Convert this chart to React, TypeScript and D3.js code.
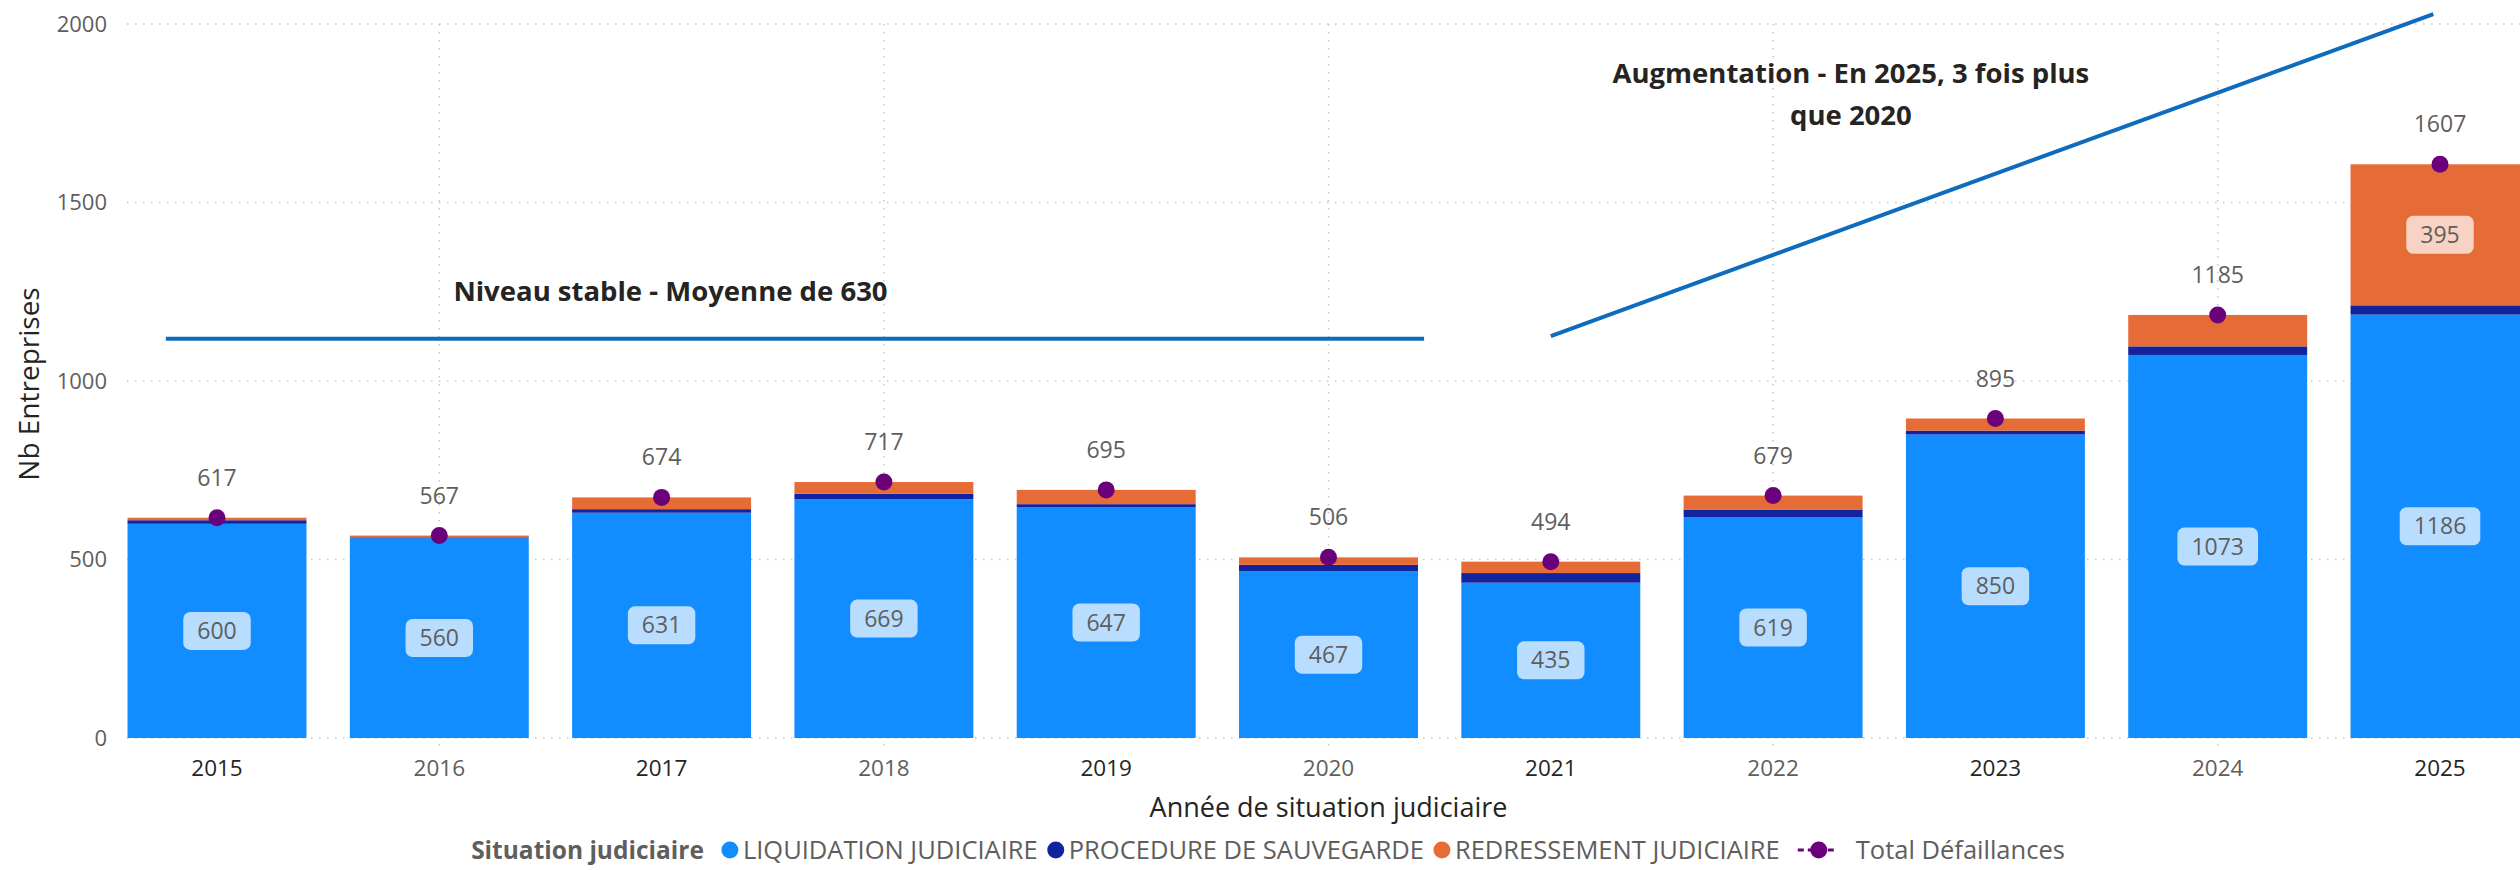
import React, { useRef, useEffect } from "react";
import * as d3 from "d3";

/* Chart data */
const years = ["2015", "2016", "2017", "2018", "2019", "2020", "2021", "2022", "2023", "2024", "2025"];
const liquidation = [600, 560, 631, 669, 647, 467, 435, 619, 850, 1073, 1186];
const sauvegarde = [10, 2, 10, 15, 8, 18, 27, 21, 11, 24, 26];
const redressement = [7, 5, 33, 33, 40, 21, 32, 39, 34, 88, 395];
const totals = [617, 567, 674, 717, 695, 506, 494, 679, 895, 1185, 1607];

const seriesKeys = ["liquidation", "sauvegarde", "redressement"];
const seriesNames = ["LIQUIDATION JUDICIAIRE", "PROCEDURE DE SAUVEGARDE", "REDRESSEMENT JUDICIAIRE"];
const seriesColors = ["#118DFF", "#12239E", "#E66C37"];
const totalName = "Total Défaillances";
const legendTitle = "Situation judiciaire";
const yTicks = [0, 500, 1000, 1500, 2000];

/* Annotations, in data units (x = year index, y = value) */
const stableLine: [number, number][] = [[-0.23, 1118], [5.43, 1118]];
const stableText = { x: 2.04, y: 1252, lines: ["Niveau stable - Moyenne de 630"] };
const growthLine: [number, number][] = [[6.0, 1126], [9.97, 2028]];
const growthText = { x: 7.35, y: 1862, lines: ["Augmentation - En 2025, 3 fois plus", "que 2020"] };

const FONT = "'Segoe UI', 'Open Sans', sans-serif";
const GRAY = "#605E5C";
const DARK = "#252423";

const App = () => {
  const svgRef = useRef(null);

  const drawChart = () => {
    const width = 2520;
    const height = 870;
    const svg = d3.select(svgRef.current);
    svg.selectAll("*").remove();
    svg.attr("width", width).attr("height", height).style("font-family", FONT);

    const plotLeft = 127;
    const step = 222.3;
    const firstCenter = 217;

    /* scales */
    const x = d3
      .scaleBand()
      .domain(years)
      .range([firstCenter - step / 2, firstCenter - step / 2 + step * years.length])
      .paddingInner(0.195)
      .paddingOuter(0.0975);
    const xi = d3
      .scaleLinear()
      .domain([0, years.length - 1])
      .range([x(years[0]) + x.bandwidth() / 2, x(years[years.length - 1]) + x.bandwidth() / 2]);
    const y = d3.scaleLinear().domain([0, 2000]).range([738, 24]);

    /* gridlines */
    const grid = svg.append("g");
    grid
      .selectAll("line.h")
      .data(yTicks)
      .enter()
      .append("line")
      .attr("x1", plotLeft)
      .attr("x2", width)
      .attr("y1", (d) => y(d))
      .attr("y2", (d) => y(d))
      .attr("stroke", "#C8C6C4")
      .attr("stroke-width", 1.5)
      .attr("stroke-dasharray", "1.5 6.5");
    grid
      .selectAll("line.v")
      .data(years.filter((d, i) => i % 2 === 1))
      .enter()
      .append("line")
      .attr("x1", (d) => x(d) + x.bandwidth() / 2)
      .attr("x2", (d) => x(d) + x.bandwidth() / 2)
      .attr("y1", y(2000))
      .attr("y2", y(0) + 10)
      .attr("stroke", "#C8C6C4")
      .attr("stroke-width", 1.5)
      .attr("stroke-dasharray", "1.5 6.5");

    /* y axis labels */
    svg
      .append("g")
      .selectAll("text")
      .data(yTicks)
      .enter()
      .append("text")
      .attr("x", 107)
      .attr("y", (d) => y(d))
      .attr("dy", "0.35em")
      .attr("text-anchor", "end")
      .style("font-size", "22px")
      .attr("fill", GRAY)
      .text((d) => d);

    svg
      .append("text")
      .attr("transform", `translate(29, 384) rotate(-90)`)
      .attr("text-anchor", "middle")
      .attr("dy", "0.35em")
      .style("font-size", "28px")
      .attr("fill", DARK)
      .text("Nb Entreprises");

    /* x axis labels */
    svg
      .append("g")
      .selectAll("text")
      .data(years)
      .enter()
      .append("text")
      .attr("x", (d) => x(d) + x.bandwidth() / 2)
      .attr("y", 768)
      .attr("dy", "0.35em")
      .attr("text-anchor", "middle")
      .style("font-size", "22.5px")
      .attr("fill", (d, i) => (i % 2 === 0 ? DARK : GRAY))
      .text((d) => d);

    svg
      .append("text")
      .attr("x", xi(5))
      .attr("y", 808)
      .attr("dy", "0.35em")
      .attr("text-anchor", "middle")
      .style("font-size", "27px")
      .attr("fill", DARK)
      .text("Année de situation judiciaire");

    /* stacked bars */
    const table = years.map((yr, i) => ({
      year: yr,
      liquidation: liquidation[i],
      sauvegarde: sauvegarde[i],
      redressement: redressement[i],
    }));
    const stacked = d3.stack().keys(seriesKeys)(table);

    const layers = svg
      .append("g")
      .selectAll("g")
      .data(stacked)
      .enter()
      .append("g")
      .attr("fill", (d, i) => seriesColors[i]);
    layers
      .selectAll("rect")
      .data((d) => d)
      .enter()
      .append("rect")
      .attr("x", (d) => x(d.data.year))
      .attr("width", x.bandwidth())
      .attr("y", (d) => y(d[1]))
      .attr("height", (d) => y(d[0]) - y(d[1]));

    /* segment data labels */
    const labelG = svg.append("g");
    stacked.forEach((layer, li) => {
      layer.forEach((d) => {
        const h = y(d[0]) - y(d[1]);
        if (li === 1 || h < 44) return;
        const cx = x(d.data.year) + x.bandwidth() / 2;
        const cy = y((d[0] + d[1]) / 2);
        const val = d[1] - d[0];
        const g = labelG.append("g");
        const t = g
          .append("text")
          .attr("x", cx)
          .attr("y", cy)
          .attr("dy", "0.35em")
          .attr("text-anchor", "middle")
          .style("font-size", "23px")
          .attr("fill", GRAY)
          .text(val);
        const w = (t.node() as SVGTextElement).getComputedTextLength() + 28;
        g.insert("rect", "text")
          .attr("x", cx - w / 2)
          .attr("y", cy - 19)
          .attr("width", w)
          .attr("height", 38)
          .attr("rx", 7)
          .attr("fill", "#ffffff")
          .attr("fill-opacity", 0.7);
      });
    });

    /* total markers and labels */
    const totalsG = svg.append("g");
    totalsG
      .selectAll("circle")
      .data(totals)
      .enter()
      .append("circle")
      .attr("cx", (d, i) => x(years[i]) + x.bandwidth() / 2)
      .attr("cy", (d) => y(d))
      .attr("r", 8.5)
      .attr("fill", "#6B007B");
    totalsG
      .selectAll("text")
      .data(totals)
      .enter()
      .append("text")
      .attr("x", (d, i) => x(years[i]) + x.bandwidth() / 2)
      .attr("y", (d) => y(d) - 40)
      .attr("dy", "0.35em")
      .attr("text-anchor", "middle")
      .style("font-size", "23px")
      .attr("fill", GRAY)
      .text((d) => d);

    /* annotations */
    const line = d3
      .line()
      .x((d) => xi(d[0]))
      .y((d) => y(d[1]));
    [stableLine, growthLine].forEach((pts) => {
      svg
        .append("path")
        .datum(pts)
        .attr("d", line)
        .attr("fill", "none")
        .attr("stroke", "#0F6CBD")
        .attr("stroke-width", 4);
    });
    [stableText, growthText].forEach((a) => {
      a.lines.forEach((ln, k) => {
        svg
          .append("text")
          .attr("x", xi(a.x))
          .attr("y", y(a.y) + k * 42)
          .attr("dy", "0.35em")
          .attr("text-anchor", "middle")
          .style("font-size", "27.5px")
          .style("font-weight", "700")
          .attr("fill", DARK)
          .text(ln);
      });
    });

    /* legend */
    const legend = svg.append("g");
    const ly = 850;
    let cursor = 0;
    const title = legend
      .append("text")
      .attr("x", cursor)
      .attr("y", ly)
      .attr("dy", "0.35em")
      .style("font-size", "24.5px")
      .style("font-weight", "700")
      .attr("fill", GRAY)
      .text(legendTitle);
    cursor += (title.node() as SVGTextElement).getComputedTextLength() + 26;
    seriesNames.forEach((name, i) => {
      legend.append("circle").attr("cx", cursor).attr("cy", ly).attr("r", 8.5).attr("fill", seriesColors[i]);
      cursor += 13;
      const t = legend
        .append("text")
        .attr("x", cursor)
        .attr("y", ly)
        .attr("dy", "0.35em")
        .style("font-size", "25.5px")
        .attr("fill", GRAY)
        .text(name);
      cursor += (t.node() as SVGTextElement).getComputedTextLength() + 18;
    });
    legend
      .append("line")
      .attr("x1", cursor)
      .attr("x2", cursor + 39)
      .attr("y1", ly)
      .attr("y2", ly)
      .attr("stroke", "#6B007B")
      .attr("stroke-width", 3)
      .attr("stroke-dasharray", "6 4");
    legend.append("circle").attr("cx", cursor + 21).attr("cy", ly).attr("r", 8.5).attr("fill", "#6B007B");
    cursor += 58;
    const tt = legend
      .append("text")
      .attr("x", cursor)
      .attr("y", ly)
      .attr("dy", "0.35em")
      .style("font-size", "25.5px")
      .attr("fill", GRAY)
      .text(totalName);
    cursor += (tt.node() as SVGTextElement).getComputedTextLength();
    legend.attr("transform", `translate(${1268 - cursor / 2}, 0)`);
  };

  useEffect(() => {
    drawChart();
  }, []);

  return (
    <div>
      <svg ref={svgRef} style={{ position: "absolute", left: 0, top: 0 }} />
    </div>
  );
};

export default App;
